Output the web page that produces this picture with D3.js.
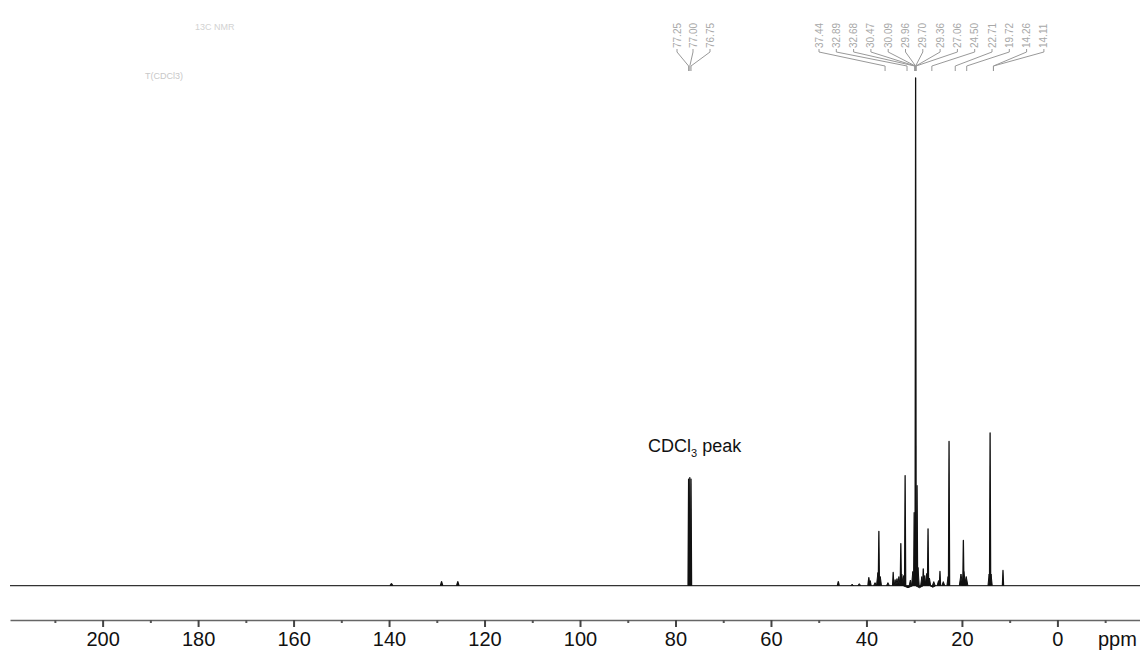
<!DOCTYPE html>
<html>
<head>
<meta charset="utf-8">
<script src="https://cdn.jsdelivr.net/npm/d3@7"></script>
<style>
  html, body { margin: 0; padding: 0; background: #fff; }
  svg { display: block; font-family: "Liberation Sans", Arial, sans-serif; }
</style>
</head>
<body>
<svg id="chart" width="1140" height="652"></svg>
<script>
// ---- data ----
const ppmDomain = [219.4, -17.3];
const majorTicks = [200, 180, 160, 140, 120, 100, 80, 60, 40, 20, 0];
const minorTicks = [210, 190, 170, 150, 130, 110, 90, 70, 50, 30, 10, -10];

// main resolved peaks: position (ppm), height (% of tallest), half base width (ppm)
const peakPpm    = [139.5, 129.0, 125.6, 77.25, 77.00, 76.75, 45.9, 39.5, 37.4, 34.4, 32.8, 31.9, 30.0, 29.7, 29.4, 28.1, 27.1, 24.6, 22.7, 19.7, 14.1, 11.4];
const peakHeight = [0.4,   0.8,   0.8,   21.0,  21.3,  21.0,  0.8,  1.6,  10.7, 2.6,  8.3,  21.7, 14.4, 100,  19.7, 3.3,  11.2, 2.8,  28.4, 8.9,  30.1, 3.0];
const peakHalfW  = [0.3,   0.25,  0.25,  0.12,  0.12,  0.12,  0.2,  0.2,  0.12, 0.12, 0.12, 0.12, 0.12, 0.12, 0.12, 0.12, 0.12, 0.12, 0.12, 0.12, 0.12, 0.12];

// small overlapping multiplets / baseline features in the aliphatic region
const smallPpm    = [43.0, 41.5, 39.2, 38.2, 37.6, 37.1, 35.5, 34.0, 33.6, 33.2, 32.6, 32.2, 30.8, 30.3, 29.2, 28.4, 27.8, 27.4, 26.8, 25.9, 24.9, 23.9, 22.9, 20.2, 19.6, 19.1, 14.3, 13.9, 31.3, 28.9, 26.1];
const smallHeight = [0.3,  0.4,  1.0,  0.6,  2.6,  1.8,  0.6,  1.2,  1.4,  1.8,  2.3,  2.0,  1.1,  2.8,  3.6,  1.8,  2.0,  2.4,  1.5,  0.8,  1.0,  0.8,  1.8,  2.3,  2.8,  1.8,  2.3,  2.3,  -0.4, -0.4, -0.3];
const smallHalfW  = [0.3,  0.3,  0.2,  0.3,  0.3,  0.25, 0.3,  0.2,  0.25, 0.25, 0.3,  0.25, 0.25, 0.25, 0.25, 0.25, 0.25, 0.25, 0.25, 0.3,  0.3,  0.3,  0.25, 0.35, 0.4,  0.35, 0.25, 0.25, 1.0,  0.8,  0.6];

// peak-pick annotations
const labelsLeft  = ["77.25", "77.00", "76.75"];
const labelsLeftPpm = [77.25, 77.00, 76.75];
const labelsRight = ["37.44", "32.89", "32.68", "30.47", "30.09", "29.96", "29.70", "29.36", "27.06", "24.50", "22.71", "19.72", "14.26", "14.11"];
const labelsRightPpm = [36.1, 31.5, 29.9, 29.8, 29.75, 29.7, 29.7, 29.65, 29.6, 26.3, 21.4, 19.0, 13.4, 13.4];

// ---- drawing ----
const svg = d3.select("#chart");
const x = d3.scaleLinear().domain(ppmDomain).range([10, 1140]);
const y = d3.scaleLinear().domain([0, 100]).range([585.7, 78]);

// faint header text (top-left)
svg.append("text").attr("x", 195).attr("y", 30).attr("font-size", 9)
  .attr("fill", "#d2d2d2").text("13C  NMR");
svg.append("text").attr("x", 145).attr("y", 79).attr("font-size", 9)
  .attr("fill", "#c8c8c8").text("T(CDCl3)");

// baseline
svg.append("line")
  .attr("x1", x(ppmDomain[0])).attr("x2", x(ppmDomain[1]))
  .attr("y1", y(0)).attr("y2", y(0))
  .attr("stroke", "#333").attr("stroke-width", 1.2);

const line = d3.line().x(d => x(d[0])).y(d => y(d[1]));

function drawPeaks(ppm, h, w, sw) {
  ppm.forEach((p, i) => {
    const pts = [[p + w[i], 0], [p, h[i]], [p - w[i], 0]];
    svg.append("path")
      .attr("d", line(pts))
      .attr("fill", "#111")
      .attr("stroke", "#111")
      .attr("stroke-width", sw)
      .attr("stroke-linejoin", "round");
  });
}
drawPeaks(smallPpm, smallHeight, smallHalfW, 1.0);
drawPeaks(peakPpm, peakHeight, peakHalfW, 1.3);

// peak-pick labels and leader lines
const labelBottom = 48, legY1 = 52, legY2 = 66, legEnd = 71;
function drawLabels(texts, ppmTargets, xs) {
  texts.forEach((t, i) => {
    const lx = xs[i];
    const px = x(ppmTargets[i]);
    svg.append("text")
      .attr("transform", `translate(${lx + 3.5},${labelBottom}) rotate(-90)`)
      .attr("font-size", 10)
      .attr("fill", "#a8a8a8")
      .text(t);
    svg.append("path")
      .attr("d", `M${lx},${labelBottom + 1}L${lx},${legY1}L${px},${legY2}L${px},${legEnd}`)
      .attr("fill", "none").attr("stroke", "#999").attr("stroke-width", 1);
  });
}
drawLabels(labelsLeft, labelsLeftPpm, [677, 693, 710]);
drawLabels(labelsRight, labelsRightPpm, labelsRight.map((d, i) => 819 + i * 17.3));

// CDCl3 annotation
const cd = svg.append("text").attr("x", 648).attr("y", 452).attr("font-size", 18).attr("fill", "#111");
cd.append("tspan").text("CDCl");
cd.append("tspan").attr("font-size", 11).attr("dy", 5).text("3");
cd.append("tspan").attr("dy", -5).text(" peak");

// x axis
const axisY = 620;
const axis = d3.axisBottom(x).tickValues(majorTicks).tickSize(7).tickSizeOuter(0).tickFormat(d3.format("d"));
const gA = svg.append("g").attr("transform", `translate(0,${axisY})`).call(axis);
gA.select(".domain").attr("stroke", "#666").attr("stroke-width", 1.5);
gA.selectAll(".tick line").attr("stroke", "#444").attr("stroke-width", 2);
gA.selectAll(".tick text").attr("font-size", 20).attr("font-family", "Liberation Sans, Arial, sans-serif")
  .attr("fill", "#111").attr("y", 26).attr("dy", 0);

const minorAxis = d3.axisBottom(x).tickValues(minorTicks).tickSize(3).tickSizeOuter(0).tickFormat("");
const gM = svg.append("g").attr("transform", `translate(0,${axisY})`).call(minorAxis);
gM.select(".domain").remove();
gM.selectAll(".tick line").attr("stroke", "#555").attr("stroke-width", 2);

svg.append("text").attr("x", 1098).attr("y", 646).attr("font-size", 20).attr("fill", "#111").text("ppm");
</script>
</body>
</html>
